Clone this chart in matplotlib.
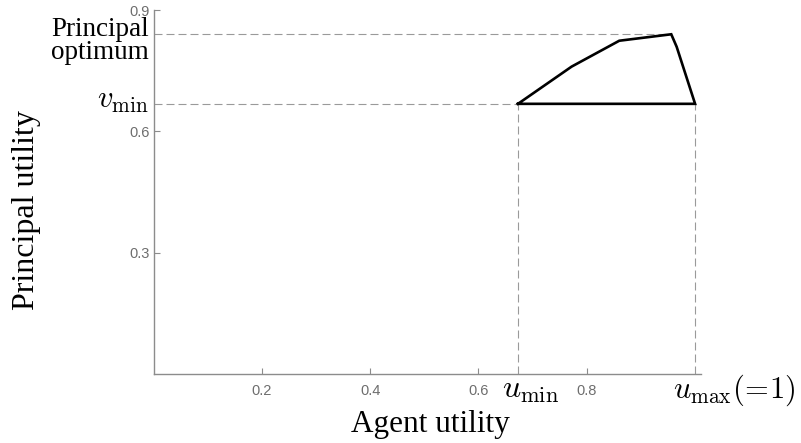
import matplotlib
matplotlib.use("Agg")
import matplotlib.pyplot as plt

# polygon of feasible (agent, principal) utilities
agent_u = [0.673, 0.772, 0.860, 0.956, 0.966, 1.0, 0.673]
principal_v = [0.668, 0.760, 0.824, 0.840, 0.809, 0.668, 0.668]

u_min = 0.673
u_max = 1.0
v_min = 0.668
u_opt = 0.956
v_opt = 0.840

x_ticks = [0.2, 0.4, 0.6, 0.8]
y_ticks = [0.3, 0.6, 0.9]

W, H = 801, 443
plt.rcParams["mathtext.fontset"] = "cm"


def px(x, y):
    # pixel position -> figure fraction
    return x / W, 1 - y / H


fig = plt.figure(figsize=(W / 100, H / 100), dpi=100)
ax = fig.add_axes([153.5 / W, 69 / H, 547 / W, 364 / H])
ax.set_xlim(0, 1.01)
ax.set_ylim(0, 0.9)

ax.plot(agent_u, principal_v, color="black", lw=1.9, solid_joinstyle="miter", zorder=3)

dash = dict(color="#9a9a9a", lw=0.8, linestyle=(0, (7.2, 3.6)), zorder=2)
ax.plot([0, u_opt], [v_opt, v_opt], **dash)
ax.plot([0, u_min], [v_min, v_min], **dash)
ax.plot([u_min, u_min], [0, v_min], **dash)
ax.plot([u_max, u_max], [0, v_min], **dash)

for s in ["top", "right"]:
    ax.spines[s].set_visible(False)
for s in ["left", "bottom"]:
    ax.spines[s].set_color("#8c8c8c")
    ax.spines[s].set_linewidth(1.0)

ax.set_xticks(x_ticks)
ax.set_yticks(y_ticks)
ax.set_xticklabels([f"{t:.1f}" for t in x_ticks], family="Liberation Sans")
ax.set_yticklabels([f"{t:.1f}" for t in y_ticks], family="Liberation Sans")
ax.tick_params(axis="both", direction="in", length=4, width=0.8, color="#8c8c8c",
               labelcolor="#6e6e6e", labelsize=10.5)
ax.tick_params(axis="x", pad=7)
ax.tick_params(axis="y", pad=3)

serif = ["Liberation Serif", "DejaVu Serif"]

# annotation labels
fig.text(*px(149, 36), "Principal", family=serif, fontsize=19.5, ha="right", va="baseline")
fig.text(*px(149, 59), "optimum", family=serif, fontsize=19.5, ha="right", va="baseline")
fig.text(*px(149, 108), r"$v_{\mathrm{min}}$", fontsize=22, ha="right", va="baseline")
fig.text(*px(502, 398), r"$u_{\mathrm{min}}$", fontsize=23, ha="left", va="baseline")
fig.text(*px(673, 398), r"$u_{\mathrm{max}}(\!=\!1)$", fontsize=22, ha="left", va="baseline")

# axis titles
fig.text(*px(430, 432), "Agent utility", family=serif, fontsize=22.5, ha="center", va="baseline")
fig.text(*px(27, 210), "Principal utility", family=serif, fontsize=23,
         rotation=90, ha="center", va="center")

fig.savefig("out.png", dpi=100)
